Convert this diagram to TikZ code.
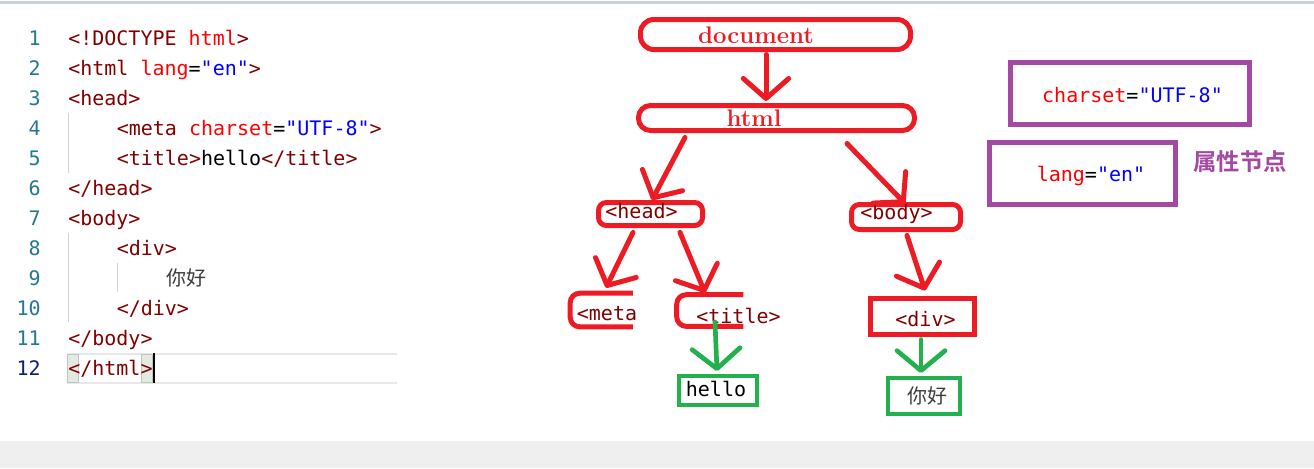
\documentclass[tikz,border=0pt]{standalone}
\usepackage{fontspec}
\setmonofont{DejaVu Sans Mono}
\newfontfamily\cjk{Noto Sans CJK SC}
\newfontfamily\cjkbold{Noto Sans CJK SC Bold}
\usetikzlibrary{arrows.meta,calc}
\definecolor{pred}{HTML}{ED1C24}
\definecolor{pgreen}{HTML}{22B14C}
\definecolor{ppurple}{HTML}{A349A4}
\definecolor{tagc}{HTML}{800000}
\definecolor{attrc}{HTML}{FF0000}
\definecolor{valc}{HTML}{0000FF}
\definecolor{lnc}{HTML}{237893}
\definecolor{lncur}{HTML}{0B216F}
\definecolor{guide}{HTML}{D3D3D3}
\tikzset{
  codeline/.style={font=\ttfamily\fontsize{15}{18}\selectfont, inner sep=0pt, anchor=base west},
  lnum/.style={font=\ttfamily\fontsize{15}{18}\selectfont, text=lnc, inner sep=0pt, anchor=base east},
  tagtext/.style={font=\ttfamily\fontsize{15}{18}\selectfont, text=tagc, inner sep=0pt},
  rbox/.style={draw=pred, line width=3.75pt, rounded corners=8pt, inner sep=0pt},
  hidbox/.style={inner sep=0pt},
  gbox/.style={draw=pgreen, line width=3pt, inner sep=0pt},
  pbox/.style={draw=ppurple, line width=3.75pt, inner sep=0pt},
  redarrow/.style={draw=pred, line width=3.75pt, line cap=round, -{Straight Barb[length=15pt,width=34pt,round]}},
  greenarrow/.style={draw=pgreen, line width=3.5pt, line cap=round, -{Straight Barb[length=15pt,width=36pt,round]}},
  titletext/.style={font=\bfseries\fontsize{18}{21}\selectfont, text=pred, inner sep=0pt}
}
\newcommand{\tg}[1]{\textcolor{tagc}{#1}}
\newcommand{\at}[1]{\textcolor{attrc}{#1}}
\newcommand{\vl}[1]{\textcolor{valc}{#1}}
\begin{document}
\begin{tikzpicture}[x=0.75pt,y=-0.75pt]
\useasboundingbox (0,0) rectangle (1314,468);
\fill[white] (0,0) rectangle (1314,468);
% top strip and bottom band
\fill[color={rgb,255:red,201;green,208;blue,220}] (0,1) rectangle (1314,4);
\fill[color={rgb,255:red,239;green,239;blue,239}] (0,441) rectangle (1314,468);

% current line highlight
\draw[color={rgb,255:red,232;green,232;blue,232}, line width=1.5pt] (67,353.5) -- (397,353.5) (67,382.5) -- (397,382.5);
\draw[fill={rgb,255:red,228;green,234;blue,226}, draw={rgb,255:red,190;green,196;blue,190}, line width=0.75pt] (67.5,354) rectangle (78.5,382);
\draw[fill={rgb,255:red,228;green,234;blue,226}, draw={rgb,255:red,190;green,196;blue,190}, line width=0.75pt] (141.5,354) rectangle (152,382);
\draw[black, line width=1.5pt] (153.5,353) -- (153.5,383);

% indent guides
\draw[guide, line width=0.75pt] (68,113) -- (68,173);
\draw[guide, line width=0.75pt] (68,233) -- (68,322);
\draw[guide, line width=0.75pt] (117,263) -- (117,292);

% line numbers
\foreach \n [count=\i] in {1,...,11} {
  \node[lnum] (ln\n) at (41,{15+30*\i}) {\n};
}
\node[lnum, text=lncur] (ln12) at (41,375) {12};

% code
\node[codeline] (c1) at (68,45) {\tg{<!DOCTYPE }\at{html}\tg{>}};
\node[codeline] (c2) at (68,75) {\tg{<html }\at{lang}=\vl{"en"}\tg{>}};
\node[codeline] (c3) at (68,105) {\tg{<head>}};
\node[codeline] (c4) at (116.5,135) {\tg{<meta }\at{charset}=\vl{"UTF-8"}\tg{>}};
\node[codeline] (c5) at (116.5,165) {\tg{<title>}hello\tg{</title>}};
\node[codeline] (c6) at (68,195) {\tg{</head>}};
\node[codeline] (c7) at (68,225) {\tg{<body>}};
\node[codeline] (c8) at (116.5,255) {\tg{<div>}};
\node[inner sep=0pt, anchor=west, font=\cjk\fontsize{15}{18}\selectfont, text={rgb,255:red,60;green,60;blue,60}] (c9) at (166,278) {你好};
\node[codeline] (c10) at (116.5,315) {\tg{</div>}};
\node[codeline] (c11) at (68,345) {\tg{</body>}};
\node[codeline] (c12) at (68,375) {\tg{</html>}};

% tree boxes
\node[rbox, rounded corners=10pt, minimum width=202.5pt, minimum height=22.5pt] (doc) at (775.5,34.5) {};
\node[rbox, rounded corners=9pt, minimum width=207pt, minimum height=18.75pt] (html) at (776.5,118) {};
\node[rbox, rounded corners=6pt, minimum width=78pt, minimum height=17.25pt] (head) at (650.5,214) {};
\node[rbox, rounded corners=6pt, minimum width=81.75pt, minimum height=18.75pt] (body) at (906,217) {};
\node[hidbox, minimum width=46.5pt, minimum height=24.75pt] (meta) at (601.5,310) {};
\node[hidbox, minimum width=49.5pt, minimum height=23.25pt] (title) at (710,310.5) {};
\node[rbox, rounded corners=0pt, minimum width=78pt, minimum height=27pt] (div) at (922.5,316.5) {};
\node[gbox, minimum width=58.5pt, minimum height=21.75pt] (hello) at (717.5,390) {};
\node[gbox, minimum width=54pt, minimum height=27pt] (nihao) at (923.5,395.5) {};
\node[pbox, minimum width=179.25pt, minimum height=46.5pt] (charset) at (1130,93.5) {};
\node[pbox, minimum width=139.5pt, minimum height=46.5pt] (lang) at (1082.5,173.5) {};

% open boxes
\draw[draw=pred, line width=3.75pt, rounded corners=7pt] (meta.north east) -- (meta.north west) -- (meta.south west) -- (meta.south east);
\draw[draw=pred, line width=3.75pt, rounded corners=7pt] (title.north east) -- (title.north west) -- (title.south west) -- (title.south east);

% texts
\node[titletext] (tdoc) at (756,35) {document};
\node[titletext] (thtml) at (754,118) {html};
\node[tagtext] (thead) at (641.5,211) {<head>};
\node[tagtext] (tbody) at (896.5,214) {<body>};
\node[tagtext] (tmeta) at (607,314) {<meta};
\node[tagtext] (ttitle) at (738.5,316) {<title>};
\node[tagtext, text=tagc] (tdiv) at (925.5,319) {<div>};
\node[tagtext, text=black] (thello) at (716,389) {hello};
\node[inner sep=0pt, font=\cjk\fontsize{15}{18}\selectfont, text={rgb,255:red,60;green,60;blue,60}] (tnihao) at (927,396) {你好};
\node[tagtext] (tcharset) at (1132.5,95) {\at{charset}\textcolor{black}{=}\vl{"UTF-8"}};
\node[tagtext] (tlang) at (1091,176) {\at{lang}\textcolor{black}{=}\vl{"en"}};
\node[inner sep=0pt, font=\cjkbold\fontsize{17.5}{20}\selectfont, text=ppurple] (attr) at (1240,162) {属性节点};

% arrows
\draw[redarrow] ([shift={(-9.5,2.5)}]doc.south) -- ([shift={(-10.5,-2)}]html.north);
\draw[redarrow] ([shift={(-91.5,4.5)}]html.south) -- ([shift={(1.5,0)}]head.north);
\draw[redarrow] ([shift={(70.5,10.5)}]html.south) -- ([shift={(-1,1.5)}]body.north);
\draw[redarrow] ([shift={(-17.5,4.5)}]head.south) -- ([shift={(4.5,-5.5)}]meta.north);
\draw[redarrow] ([shift={(29.5,4.5)}]head.south) -- ([shift={(-5,-2)}]title.north);
\draw[redarrow] ([shift={(1,3.5)}]body.south) -- ([shift={(2.5,-5.5)}]div.north);
\draw[greenarrow] ([shift={(5,11.5)}]title.center) -- ([shift={(-0.5,-2.5)}]hello.north);
\draw[greenarrow] ([shift={(-1.5,2.5)}]div.south) -- ([shift={(-2.5,-2.5)}]nihao.north);
\end{tikzpicture}
\end{document}
